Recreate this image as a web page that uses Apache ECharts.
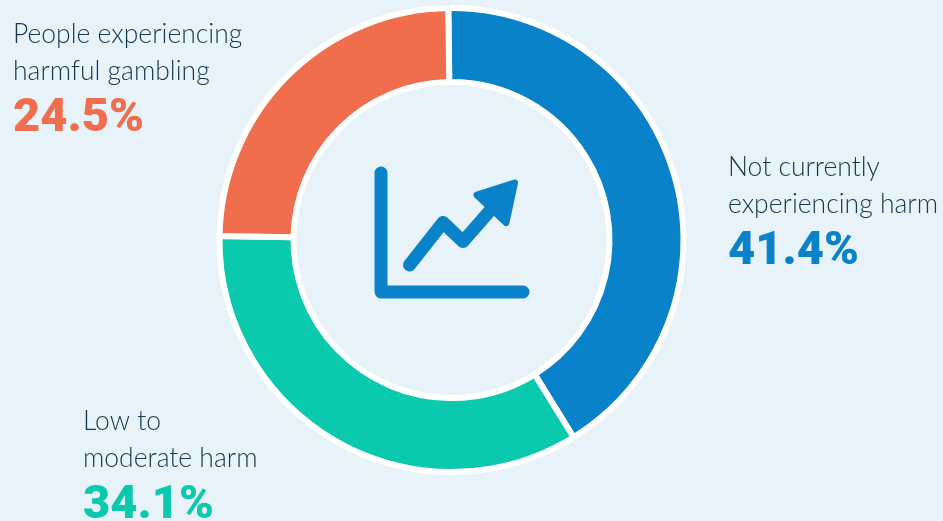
<!DOCTYPE html>
<html>
<head>
<meta charset="utf-8">
<style>
html, body { margin: 0; padding: 0; background: #e7f2f9; }
#chart { width: 943px; height: 521px; }
</style>
<script src="https://cdn.jsdelivr.net/npm/echarts@6/dist/echarts.min.js"></script>
</head>
<body>
<div id="chart"></div>
<script>
// Share of people by level of gambling harm
const categories = ['Not currently\nexperiencing harm', 'Low to\nmoderate harm', 'People experiencing\nharmful gambling'];
const shares = [41.4, 34.1, 24.5];
const sliceColours = ['#0a82ca', '#0bc9ad', '#f06e4e'];
const labelAnchors = [[728, 149], [83, 403], [13, 16]];

const iconColour = '#0a82ca';
const chart = echarts.init(document.getElementById('chart'), null, { renderer: 'canvas' });

const valueStyle = colour => ({
  fontFamily: 'Roboto, sans-serif', fontSize: 47, fontWeight: 900, lineHeight: 58, color: colour
});

chart.setOption({
  backgroundColor: '#e7f2f9',
  animation: false,
  series: [{
    type: 'pie',
    center: [451.5, 240],
    radius: [158, 232],
    startAngle: 90.8,
    clockwise: true,
    silent: true,
    itemStyle: { borderColor: '#ffffff', borderWidth: 6 },
    label: {
      show: true,
      position: 'outside',
      overflow: 'none',
      formatter: p => p.name.split('\n').map(l => '{t|' + l + '}').join('\n') +
        '\n{v' + p.dataIndex + '|' + p.value.toFixed(1) + '%}',
      rich: {
        t: { fontFamily: 'Lato, sans-serif', fontSize: 26.5, fontWeight: 300, lineHeight: 37, color: '#17384f' },
        v0: valueStyle(sliceColours[0]),
        v1: valueStyle(sliceColours[1]),
        v2: valueStyle(sliceColours[2])
      },
      align: 'left',
      verticalAlign: 'top'
    },
    labelLine: { show: false },
    labelLayout: p => ({
      x: labelAnchors[p.dataIndex][0],
      y: labelAnchors[p.dataIndex][1],
      align: 'left',
      verticalAlign: 'top'
    }),
    data: categories.map((name, i) => ({
      name,
      value: shares[i],
      itemStyle: { color: sliceColours[i] }
    }))
  }],
  graphic: [
    // Line-chart pictogram in the middle of the ring
    { type: 'polyline', shape: { points: [[381, 173], [381, 292], [523, 292]] },
      style: { stroke: iconColour, lineWidth: 13, lineCap: 'round', lineJoin: 'round', fill: null } },
    { type: 'polyline', shape: { points: [[409.5, 265], [443, 222.5], [463, 241.5], [495, 205]] },
      style: { stroke: iconColour, lineWidth: 13, lineCap: 'round', lineJoin: 'round', fill: null } },
    { type: 'polygon', shape: { points: [[514.5, 183], [477, 195], [506, 222.5]] },
      style: { fill: iconColour, stroke: iconColour, lineWidth: 7, lineJoin: 'round' } }
  ]
});
</script>
</body>
</html>
